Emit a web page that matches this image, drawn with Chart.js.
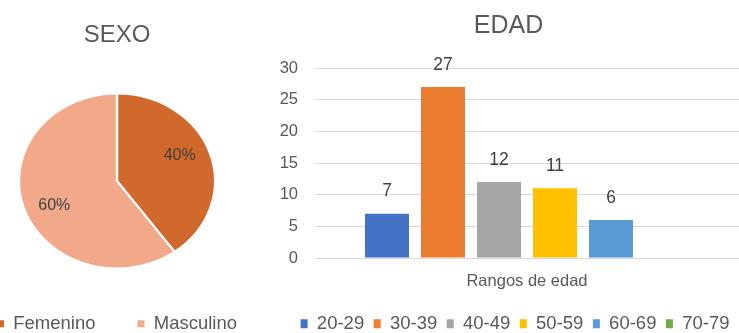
<!DOCTYPE html>
<html>
<head>
<meta charset="utf-8">
<script src="https://cdn.jsdelivr.net/npm/chart.js@4.4.1/dist/chart.umd.min.js"></script>
<style>
  html, body { margin: 0; padding: 0; background: #ffffff; overflow: hidden; }
  body { width: 739px; height: 333px; position: relative; }
  #pie { position: absolute; left: -73px; top: 0; }
  #bar { position: absolute; left: 260px; top: 0; }
</style>
</head>
<body>
<canvas id="pie" width="380" height="343"></canvas>
<canvas id="bar" width="479" height="343"></canvas>
<script>
// ---- data ----
const sexTitle = 'SEXO';
const sexLabels = ['Femenino', 'Masculino'];
const sexValues = [40, 60];
const sexColors = ['#D0692B', '#F2A98A'];

const ageTitle = 'EDAD';
const ageCategories = ['Rangos de edad'];
const ageRanges = ['20-29', '30-39', '40-49', '50-59', '60-69', '70-79'];
const ageCounts = [7, 27, 12, 11, 6, null];
const ageColors = ['#4472C4', '#ED7D31', '#A5A5A5', '#FFC000', '#5B9BD5', '#70AD47'];
const yMin = 0, yMax = 30, yStep = 5;

const FONT = "'Liberation Sans', Arial, sans-serif";
Chart.defaults.font.family = FONT;
Chart.defaults.animation = false;

// ---- pie: stretched horizontally like the reference ----
const STRETCH = 1.12;
const LABEL_ROT = -6 * Math.PI / 180;
const pieStretch = {
  id: 'pieStretch',
  beforeDatasetsDraw(chart) {
    const a = chart.chartArea;
    const cx = (a.left + a.right) / 2;
    const ctx = chart.ctx;
    ctx.save();
    ctx.translate(cx, 0);
    ctx.scale(STRETCH, 1);
    ctx.translate(-cx, 0);
  },
  afterDatasetsDraw(chart) {
    const ctx = chart.ctx;
    ctx.restore();
    const meta = chart.getDatasetMeta(0);
    ctx.save();
    ctx.font = "16px " + FONT;
    ctx.fillStyle = '#404040';
    ctx.textAlign = 'center';
    ctx.textBaseline = 'middle';
    meta.data.forEach((arc, i) => {
      const p = arc.getProps(['x', 'y', 'startAngle', 'endAngle', 'outerRadius']);
      const mid = (p.startAngle + p.endAngle) / 2 + LABEL_ROT;
      const r = p.outerRadius * 0.7;
      const lx = p.x + Math.cos(mid) * r * STRETCH;
      const ly = p.y + Math.sin(mid) * r;
      ctx.fillText(chart.data.datasets[0].data[i] + '%', lx, ly);
    });
    ctx.restore();
  }
};

new Chart(document.getElementById('pie'), {
  type: 'pie',
  data: {
    labels: sexLabels,
    datasets: [{
      data: sexValues,
      backgroundColor: sexColors,
      borderColor: '#ffffff',
      borderWidth: 2,
      radius: 87.5
    }]
  },
  options: {
    responsive: false,
    animation: false,
    layout: { padding: 0 },
    plugins: {
      title: {
        display: true,
        text: sexTitle,
        color: '#595959',
        font: { size: 24, weight: 'normal', family: FONT },
        padding: { top: 20.5, bottom: 40.2 }
      },
      legend: {
        position: 'bottom',
        labels: {
          color: '#595959',
          font: { size: 18.5, family: FONT },
          boxWidth: 7,
          boxHeight: 7,
          padding: 42,
          generateLabels(chart) {
            const items = Chart.overrides.pie.plugins.legend.labels.generateLabels(chart);
            items.forEach(it => { it.lineWidth = 0; it.strokeStyle = 'rgba(0,0,0,0)'; });
            return items;
          }
        }
      },
      tooltip: { enabled: false }
    }
  },
  plugins: [pieStretch]
});

// ---- bar chart ----
const barLabels = {
  id: 'barLabels',
  afterDatasetsDraw(chart) {
    const ctx = chart.ctx;
    ctx.save();
    ctx.font = "17.5px " + FONT;
    ctx.fillStyle = '#404040';
    ctx.textAlign = 'center';
    ctx.textBaseline = 'middle';
    chart.data.datasets.forEach((ds, di) => {
      const meta = chart.getDatasetMeta(di);
      meta.data.forEach((bar, i) => {
        const v = ds.data[i];
        if (v === null || v === undefined) return;
        ctx.fillText(String(v), bar.x, bar.y - 22);
      });
    });
    ctx.restore();
  }
};

new Chart(document.getElementById('bar'), {
  type: 'bar',
  data: {
    labels: ageCategories,
    datasets: ageRanges.map((r, i) => ({
      label: r,
      data: [ageCounts[i]],
      backgroundColor: ageColors[i],
      borderWidth: 0,
      categoryPercentage: 0.7925,
      barPercentage: 0.786
    }))
  },
  options: {
    responsive: false,
    animation: false,
    layout: { padding: { left: 18, right: 0, top: 0, bottom: 0 } },
    scales: {
      x: {
        grid: { display: false, drawTicks: false },
        border: { display: false },
        ticks: { color: '#595959', font: { size: 16.5, family: FONT }, padding: 14 },
        afterFit(scale) { scale.height = 47; }
      },
      y: {
        min: yMin,
        max: yMax,
        grid: { color: '#D9D9D9', lineWidth: 1, drawTicks: false },
        border: { display: false },
        ticks: { stepSize: yStep, color: '#595959', font: { size: 16.5, family: FONT }, padding: 17 },
        afterFit(scale) { scale.width = 37; }
      }
    },
    plugins: {
      title: {
        display: true,
        text: ageTitle,
        color: '#595959',
        font: { size: 25, weight: 'normal', family: FONT },
        padding: { top: 11, bottom: 27 }
      },
      legend: {
        position: 'bottom',
        align: 'end',
        labels: {
          color: '#595959',
          font: { size: 18.5, family: FONT },
          boxWidth: 7,
          boxHeight: 9,
          padding: 9.5
        }
      },
      tooltip: { enabled: false }
    }
  },
  plugins: [barLabels]
});
</script>
</body>
</html>
